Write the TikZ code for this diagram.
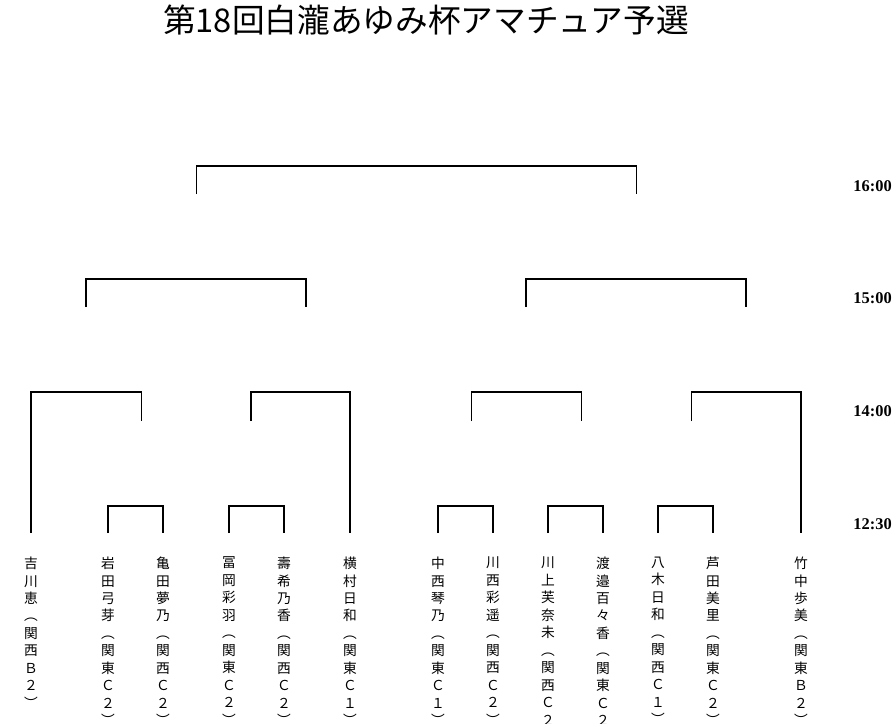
\documentclass[tikz,border=0pt]{standalone}
\usepackage{fontspec}
\usepackage{tikz}
\newfontfamily\jpfont{Noto Sans CJK JP}
\newfontfamily\timefont{Liberation Serif}

\begin{document}
\begin{tikzpicture}[x=0.75pt,y=-0.75pt,
    bracket/.style={line width=0.8pt,black},
    player/.style={anchor=north,align=center,inner sep=0pt,outer ysep=18pt,
      font=\jpfont\fontsize{10.3}{13.1}\selectfont},
    timelabel/.style={anchor=east,inner sep=0pt,font=\timefont\bfseries\fontsize{12.3}{14}\selectfont}]
      \useasboundingbox (0,0) rectangle (896,724);
      \node[font=\jpfont\fontsize{24.5}{28}\selectfont] (title) at (426,20) {第18回白瀧あゆみ杯アマチュア予選};
      % time rows
      \node[timelabel] (t1600) at (892,186) {16:00};
      \node[timelabel] (t1500) at (892,298) {15:00};
      \node[timelabel] (t1400) at (892,411) {14:00};
      \node[timelabel] (t1230) at (892,524) {12:30};
      % players
      \node[player] (p1) at (31,533) {吉\\川\\恵\\︵\\関\\西\\Ｂ\\２\\︶};
      \node[player] (p2) at (108,533) {岩\\田\\弓\\芽\\︵\\関\\東\\Ｃ\\２\\︶};
      \node[player] (p3) at (163,533) {亀\\田\\夢\\乃\\︵\\関\\西\\Ｃ\\２\\︶};
      \node[player] (p4) at (229,533) {冨\\岡\\彩\\羽\\︵\\関\\東\\Ｃ\\２\\︶};
      \node[player] (p5) at (284,533) {壽\\希\\乃\\香\\︵\\関\\西\\Ｃ\\２\\︶};
      \node[player] (p6) at (350,533) {横\\村\\日\\和\\︵\\関\\東\\Ｃ\\１\\︶};
      \node[player] (p7) at (438,533) {中\\西\\琴\\乃\\︵\\関\\東\\Ｃ\\１\\︶};
      \node[player] (p8) at (493,533) {川\\西\\彩\\遥\\︵\\関\\西\\Ｃ\\２\\︶};
      \node[player] (p9) at (548,533) {川\\上\\芙\\奈\\未\\︵\\関\\西\\Ｃ\\２\\︶};
      \node[player] (p10) at (603,533) {渡\\邉\\百\\々\\香\\︵\\関\\東\\Ｃ\\２\\︶};
      \node[player] (p11) at (658,533) {八\\木\\日\\和\\︵\\関\\西\\Ｃ\\１\\︶};
      \node[player] (p12) at (713,533) {芦\\田\\美\\里\\︵\\関\\東\\Ｃ\\２\\︶};
      \node[player] (p13) at (801,533) {竹\\中\\歩\\美\\︵\\関\\東\\Ｂ\\２\\︶};
      % bar heights and loose ends
      \coordinate (r1) at (135,506);
      \coordinate (r2) at (256,506);
      \coordinate (r3) at (465,506);
      \coordinate (r4) at (575,506);
      \coordinate (r5) at (685,506);
      \coordinate (w1) at (141.5,421);
      \coordinate (w2) at (251,421);
      \coordinate (w3) at (471.5,421);
      \coordinate (w4) at (581.5,421);
      \coordinate (w5) at (691.5,421);
      \coordinate (q1) at (86,392);
      \coordinate (q2) at (306,392);
      \coordinate (q3) at (526,392);
      \coordinate (q4) at (746,392);
      \coordinate (s1) at (86,307);
      \coordinate (s2) at (306,307);
      \coordinate (s3) at (526,307);
      \coordinate (s4) at (746,307);
      \coordinate (h1) at (196,279);
      \coordinate (h2) at (636,279);
      \coordinate (f1) at (196.5,194);
      \coordinate (f2) at (636.5,194);
      \coordinate (fin) at (416,166);
      % 12:30
      \draw[bracket] (p2.north) |- (r1) -| (p3.north);
      \draw[bracket] (p4.north) |- (r2) -| (p5.north);
      \draw[bracket] (p7.north) |- (r3) -| (p8.north);
      \draw[bracket] (p9.north) |- (r4) -| (p10.north);
      \draw[bracket] (p11.north) |- (r5) -| (p12.north);
      % 14:00
      \draw[bracket] (p1.north) |- (q1) -| (w1);
      \draw[bracket] (w2) |- (q2) -| (p6.north);
      \draw[bracket] (w3) |- (q3) -| (w4);
      \draw[bracket] (w5) |- (q4) -| (p13.north);
      % 15:00 and 16:00
      \draw[bracket] (s1) |- (h1) -| (s2);
      \draw[bracket] (s3) |- (h2) -| (s4);
      \draw[bracket] (f1) |- (fin) -| (f2);
    \end{tikzpicture}
\end{document}
